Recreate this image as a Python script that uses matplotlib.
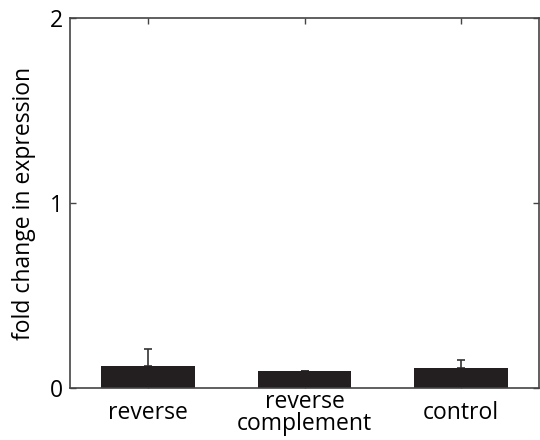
import numpy as np
import matplotlib
matplotlib.use("Agg")
import matplotlib.pyplot as plt

plt.rcParams['font.family'] = ['Open Sans', 'DejaVu Sans']

# fold change per construct, with upper error only
labels = ['reverse', 'reverse\ncomplement', 'control']
fold_change = [0.12, 0.09, 0.11]
err_upper = [0.09, 0.003, 0.04]

fig = plt.figure(figsize=(5.4, 4.4), dpi=100)
ax = fig.add_axes([0.13, 0.118, 0.868, 0.841])

x = np.arange(1, len(labels) + 1)
ax.bar(x, fold_change, width=0.6, color='#231f20', zorder=2)
ax.errorbar(x, fold_change, yerr=[np.zeros(len(x)), err_upper], fmt='none',
            ecolor='#333333', elinewidth=1.2, capsize=3, capthick=1.2, zorder=1)

ax.set_xlim(0.5, 3.5)
ax.set_ylim(0, 2)
ax.set_yticks([0, 1, 2])
ax.set_xticks(x)
ax.set_xticklabels(labels, fontsize=16.5, linespacing=0.85)
for lab in ax.get_xticklabels():
    lab.set_va('center')
ax.tick_params(axis='both', direction='in', length=4, width=1, color='#444444',
               labelsize=16.5, top=True, right=True, pad=5)
ax.tick_params(axis='x', pad=18)
ax.set_ylabel('fold change in expression', fontsize=16.5, labelpad=10)

for s in ax.spines.values():
    s.set_color('#444444')
    s.set_linewidth(1.2)

plt.savefig('out.png', dpi=100)
